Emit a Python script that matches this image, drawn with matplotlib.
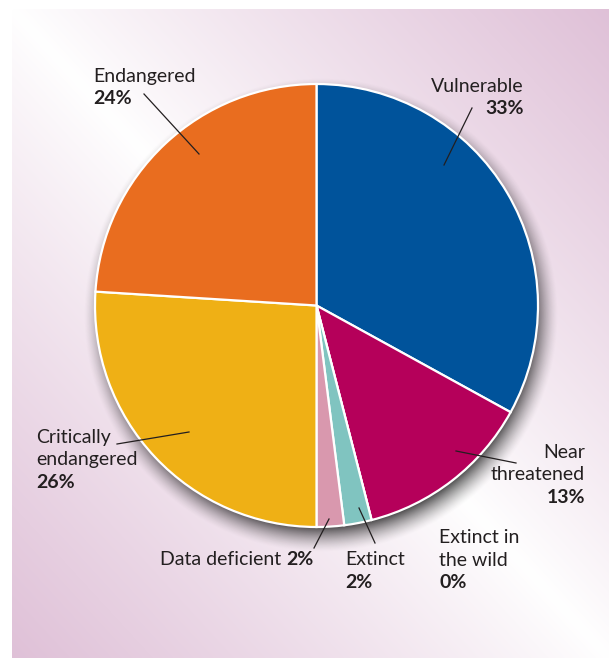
import numpy as np
import matplotlib.pyplot as plt

# data, clockwise from 12 o'clock
categories = ["Vulnerable", "Near threatened", "Extinct in the wild", "Extinct",
              "Data deficient", "Critically endangered", "Endangered"]
values = [33, 13, 0, 2, 2, 26, 24]
colors = ["#00539b", "#b5005a", "#3a8a86", "#80c4c0", "#d998ae", "#efb015", "#e96d1f"]

W, H = 609, 658
fig = plt.figure(figsize=(W / 100, H / 100), dpi=100)
fig.patch.set_facecolor("white")
plt.rcParams["font.family"] = ["Lato", "DejaVu Sans"]

# background panel with diagonal pink gradient + pie shadow, in pixel coords
bg = fig.add_axes([0, 0, 1, 1])
bg.set_xlim(0, W)
bg.set_ylim(H, 0)
bg.axis("off")
x0, y0 = 12, 9
yy, xx = np.mgrid[y0:H, x0:W].astype(float)
u = (xx - x0) / (W - x0)
v = (yy - y0) / (H - y0)
t = np.clip(np.abs(u - v), 0, 1) ** 0.9
pink = np.array([0.875, 0.755, 0.845])
img = 1 - (1 - pink) * t[..., None]
bg.imshow(img, extent=[x0, W, H, y0], interpolation="bilinear", zorder=0)

cx, cy, r = 316.5, 305.5, 221.5
d = np.hypot(xx - (cx + 4), yy - (cy + 9))
sh = np.zeros(xx.shape + (4,))
sh[..., 3] = 0.7 * np.clip((r + 16 - d) / 26, 0, 1) ** 1.5
bg.imshow(sh, extent=[x0, W, H, y0], interpolation="bilinear", zorder=1)

# pie axes placed so the circle sits at (cx, cy) with radius r
ax = fig.add_axes([(cx - r) / W, 1 - (cy + r) / H, 2 * r / W, 2 * r / H])
ax.pie(values, colors=colors, startangle=90, counterclock=False, radius=1,
       wedgeprops=dict(edgecolor="white", linewidth=1.6))
ax.set_xlim(-1, 1)
ax.set_ylim(-1, 1)
ax.axis("off")

# overlay for leader lines
top = fig.add_axes([0, 0, 1, 1])
top.set_xlim(0, W)
top.set_ylim(H, 0)
top.axis("off")
top.patch.set_alpha(0)

# labels: (lines, x, first baseline, ha); last line bold
labels = [
    (["Endangered", "24%"], 93, 82, "left"),
    (["Vulnerable", "33%"], 524, 92, "right"),
    (["Near", "threatened", "13%"], 585, 458, "right"),
    (["Extinct in", "the wild", "0%"], 439, 543, "left"),
    (["Extinct", "2%"], 345, 565, "left"),
    (["Critically", "endangered", "26%"], 36, 443, "left"),
]
fs = 14
for lines, lx, ly, ha in labels:
    for i, s in enumerate(lines):
        bold = i == len(lines) - 1
        fig.text(lx / W, 1 - (ly + 22.5 * i) / H, s, ha=ha, va="baseline",
                 fontsize=fs, color="#231f20", fontweight="bold" if bold else "normal")

dd = fig.text(160 / W, 1 - 565 / H, "Data deficient ", ha="left", va="baseline",
              fontsize=fs, color="#231f20")
fig.canvas.draw()
bb = dd.get_window_extent()
fig.text(bb.x1 / W, 1 - 565 / H, "2%", ha="left", va="baseline",
         fontsize=fs, color="#231f20", fontweight="bold")

# leader lines (pixel coords)
leaders = [
    ((144, 94), (199, 154)),
    ((472, 108), (444, 165)),
    ((456, 451), (516, 463)),
    ((359, 508), (375, 543)),
    ((314, 548), (329, 519)),
    ((117, 444), (189, 432)),
]
for (ax1, ay1), (ax2, ay2) in leaders:
    top.plot([ax1, ax2], [ay1, ay2], color="#231f20", lw=0.9)

fig.savefig("out.png", dpi=100)
